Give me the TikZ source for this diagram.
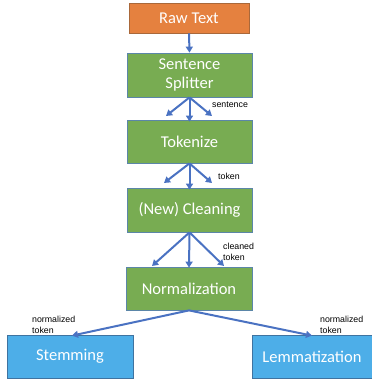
\documentclass[tikz,border=0pt]{standalone}
\usepackage{fontspec}
\setmainfont{Carlito}
\newfontfamily\labelfont{Liberation Sans}
\usepackage{xcolor}
\usetikzlibrary{arrows.meta}

\definecolor{rawfill}{HTML}{E5813F}
\definecolor{rawline}{HTML}{A9683A}
\definecolor{stepfill}{HTML}{78AC52}
\definecolor{stepline}{HTML}{5B86A8}
\definecolor{leaffill}{HTML}{4DAEE8}
\definecolor{leafline}{HTML}{3F73A0}
\definecolor{arrowblue}{HTML}{4A72C2}

\begin{document}
\begin{tikzpicture}[
			x=1pt, y=-1pt, >={Triangle[length=6pt,width=7pt]},
			box/.style={draw, line width=0.8pt, text=white, align=center,
				font=\fontsize{16.5}{19}\selectfont, inner sep=0pt},
			rawbox/.style={box, fill=rawfill, draw=rawline},
			stepbox/.style={box, fill=stepfill, draw=stepline},
			leafbox/.style={box, fill=leaffill, draw=leafline},
			flow/.style={->, draw=arrowblue, line width=2pt},
			tag/.style={font=\labelfont\fontsize{8.8}{11}\selectfont, align=left, anchor=west, inner sep=0pt}
			]
			% fixed frame of the picture
			\useasboundingbox (0,0) rectangle (372,381);
			
			% the boxes of the pipeline
			\node[rawbox, minimum width=120pt, minimum height=30pt] (raw) at (189,18) {Raw Text};
			\node[stepbox, minimum width=125pt, minimum height=44pt] (split) at (189.5,75) {Sentence\\Splitter};
			\node[stepbox, minimum width=125pt, minimum height=43pt] (tok) at (189.5,141.5) {Tokenize};
			\node[stepbox, minimum width=125pt, minimum height=44pt] (clean) at (189.5,210) {(New) Cleaning};
			\node[stepbox, minimum width=126pt, minimum height=43pt] (norm) at (189,288.5) {Normalization};
			\node[leafbox, minimum width=126pt, minimum height=43pt] (stem) at (70,356.5) {Stemming};
			\node[leafbox, minimum width=120pt, minimum height=43pt] (lemma) at (312,356.5) {Lemmatization};
			
			% free ends of the side arrows
			\coordinate (splitL) at (166,116);
			\coordinate (splitR) at (212,116);
			\coordinate (tokL)   at (164,183);
			\coordinate (tokR)   at (212,183);
			\coordinate (cleanL) at (152,266);
			\coordinate (cleanR) at (224,266);
			
			% raw text -> splitter
			\draw[flow] (raw.south) -- (split.north);
			
			% splitter -> tokenize
			\draw[flow] (split.south) -- (splitL);
			\draw[flow] (split.south) -- ([yshift=-2pt]tok.north);
			\draw[flow] (split.south) -- (splitR);
			\node[tag] (lsent) at (212,104.5) {sentence};
			
			% tokenize -> cleaning
			\draw[flow] (tok.south) -- (tokL);
			\draw[flow] (tok.south) -- ([yshift=-2pt]clean.north);
			\draw[flow] (tok.south) -- (tokR);
			\node[tag] (ltok) at (218,176) {token};
			
			% cleaning -> normalization
			\draw[flow] (clean.south) -- (cleanL);
			\draw[flow] (clean.south) -- ([yshift=-1pt]norm.north);
			\draw[flow] (clean.south) -- (cleanR);
			\node[tag] (lclean) at (223,251.5) {cleaned\\token};
			
			% normalization -> stemming, lemmatization
			\draw[flow] (norm.south) -- ([xshift=2pt,yshift=-1pt]stem.north);
			\draw[flow] (norm.south) -- ([yshift=-1pt]lemma.north);
			\node[tag] (lnormL) at (32,324.5) {normalized\\token};
			\node[tag] (lnormR) at (320,324.5) {normalized\\token};
			
		\end{tikzpicture}
\end{document}
